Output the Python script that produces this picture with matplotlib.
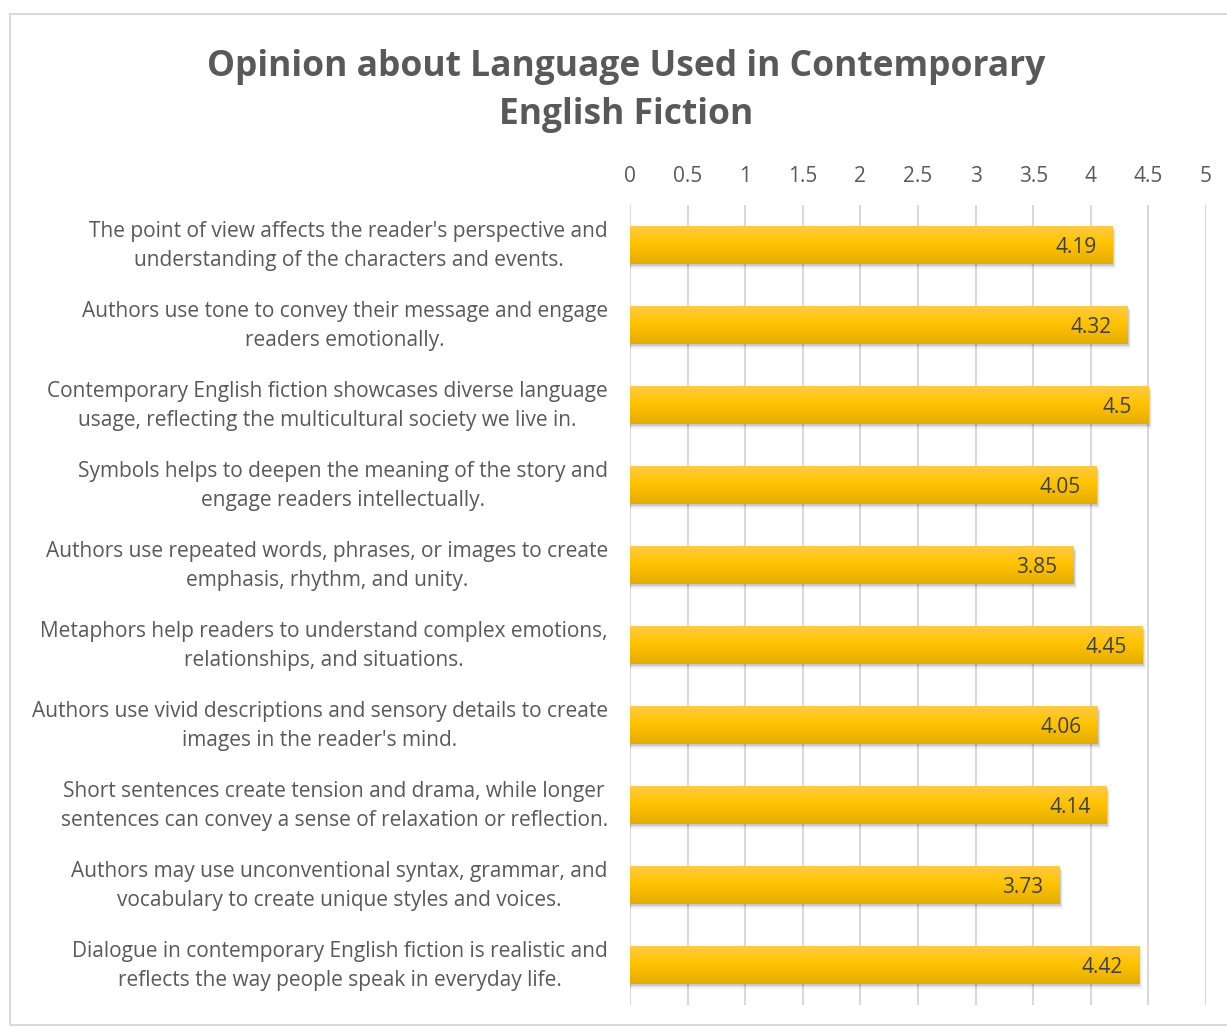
import matplotlib
matplotlib.use("Agg")
import matplotlib.pyplot as plt
import matplotlib.transforms as mtransforms
import numpy as np
from matplotlib.patches import Rectangle
from matplotlib.colors import LinearSegmentedColormap

categories = [
    "The point of view affects the reader's perspective and\nunderstanding of the characters and events.",
    "Authors use tone to convey their message and engage\nreaders emotionally.",
    "Contemporary English fiction showcases diverse language\nusage, reflecting the multicultural society we live in.",
    "Symbols helps to deepen the meaning of the story and\nengage readers intellectually.",
    "Authors use repeated words, phrases, or images to create\nemphasis, rhythm, and unity.",
    "Metaphors help readers to understand complex emotions,\nrelationships, and situations.",
    "Authors use vivid descriptions and sensory details to create\nimages in the reader's mind.",
    "Short sentences create tension and drama, while longer\nsentences can convey a sense of relaxation or reflection.",
    "Authors may use unconventional syntax, grammar, and\nvocabulary to create unique styles and voices.",
    "Dialogue in contemporary English fiction is realistic and\nreflects the way people speak in everyday life.",
]
values = [4.19, 4.32, 4.5, 4.05, 3.85, 4.45, 4.06, 4.14, 3.73, 4.42]
value_labels = ["4.19", "4.32", "4.5", "4.05", "3.85", "4.45", "4.06", "4.14", "3.73", "4.42"]
xticks = [0, 0.5, 1, 1.5, 2, 2.5, 3, 3.5, 4, 4.5, 5]
xtick_labels = ["0", "0.5", "1", "1.5", "2", "2.5", "3", "3.5", "4", "4.5", "5"]
title = "Opinion about Language Used in Contemporary\nEnglish Fiction"

plt.rcParams['font.family'] = ['Open Sans', 'DejaVu Sans']

fig = plt.figure(figsize=(12.27, 10.28), dpi=100)
# outer border
fig.patches.append(Rectangle((10/1227, 3/1028), 1.2, 1 - 17/1028, transform=fig.transFigure,
                             fill=False, edgecolor='#D9D9D9', lw=1.5))

ax = fig.add_axes([630/1227, 1 - 1005/1028, 576/1227, 800/1028])
n = len(categories)
y = np.arange(n)
bh = 0.475

# shadows
for yi, v in zip(y, values):
    for k, a in enumerate([0.10, 0.07, 0.04]):
        off = 0.02 * (k + 1)
        ax.add_patch(Rectangle((0.0, yi - bh/2 + off), v + 0.01 * (k + 1), bh, facecolor='black',
                               alpha=a, edgecolor='none', zorder=1.5))

bars = ax.barh(y, values, height=bh, color='#FFC000', edgecolor='none', zorder=2)

# gradient overlay
grad = np.linspace(0, 1, 256).reshape(-1, 1)
cmap = LinearSegmentedColormap.from_list('g', [(0, '#FFCB45'), (0.45, '#FFC300'), (1, '#E5AC00')])
for b in bars:
    x0, y0 = b.get_x(), b.get_y()
    w, h = b.get_width(), b.get_height()
    im = ax.imshow(grad, cmap=cmap, aspect='auto', extent=(x0, x0 + w, y0 + h, y0),
                   zorder=2.1, interpolation='bilinear')
    im.set_clip_path(b)

ax.set_xlim(0, 5)
ax.set_ylim(n - 0.5, -0.5)

for yi, v, lab in zip(y, values, value_labels):
    ax.text(v - 0.14, yi + 0.035, lab, ha='right', va='center', fontsize=15, color='#404040', zorder=3)

ax.set_xticks(xticks)
ax.set_xticklabels(xtick_labels)
ax.xaxis.tick_top()
ax.tick_params(axis='x', length=0, pad=13, labelsize=15, labelcolor='#595959')
ax.set_yticks(y)
ax.set_yticklabels(categories, fontsize=15, color='#595959', ha='right', multialignment='center',
                   linespacing=1.45)
ax.tick_params(axis='y', length=0, pad=16)
offset = mtransforms.ScaledTranslation(0, 5/100, fig.dpi_scale_trans)
for lbl in ax.get_yticklabels():
    lbl.set_transform(lbl.get_transform() + offset)
ax.grid(axis='x', color='#D9D9D9', lw=1.5, zorder=0)
ax.set_axisbelow(True)
for s in ax.spines.values():
    s.set_visible(False)

fig.text(626/1227, 1 - 91/1028, title, ha='center', va='center', fontsize=25.5, fontweight='bold',
         color='#595959', linespacing=1.45)

fig.savefig('out.png', dpi=100)
